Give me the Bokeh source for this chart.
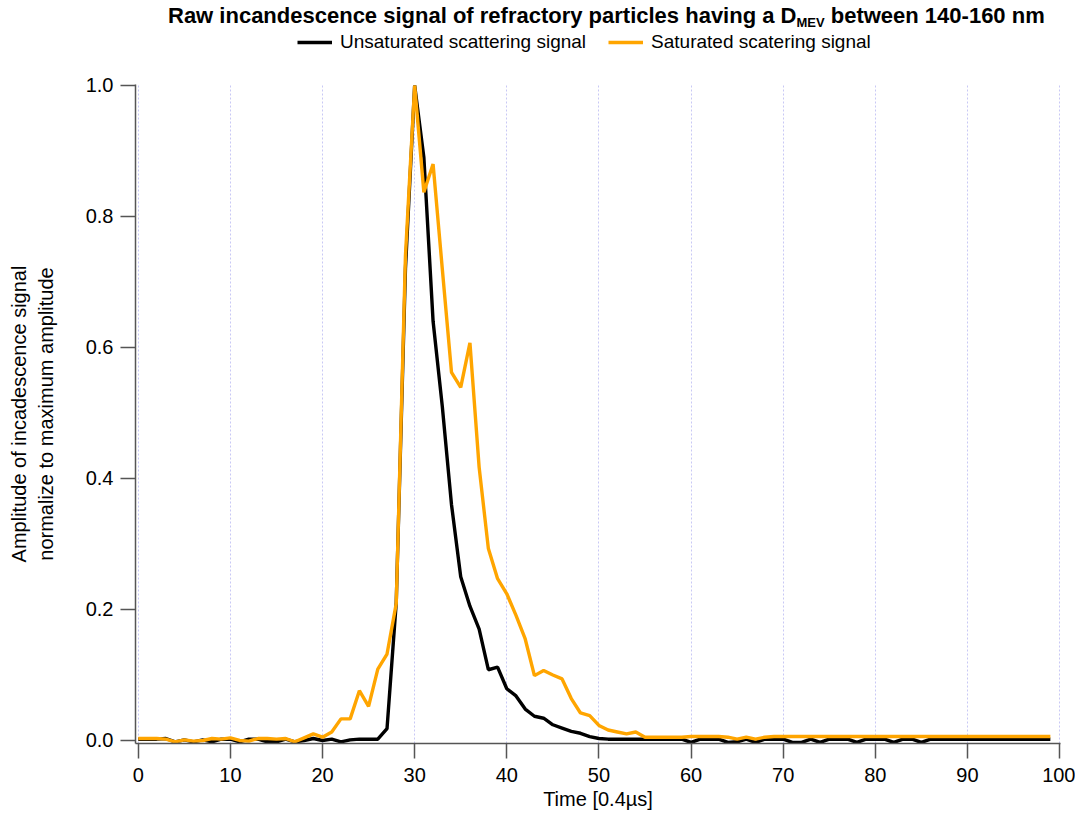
from bokeh.plotting import figure
from bokeh.models import (Range1d, FixedTicker, PrintfTickFormatter, Legend, LegendItem, Div)
from bokeh.layouts import column
from bokeh.embed import file_html
from bokeh.resources import INLINE

# ---------------- data ----------------
time = list(range(100))

unsaturated = [
    0.002, 0.002, 0.002, 0.003, -0.002, 0.001, -0.002, 0.001, -0.002, 0.002,
    0.002, -0.002, 0.002, 0.002, -0.002, -0.002, 0.002, -0.002, 0.000, 0.003,
    0.000, 0.002, -0.002, 0.001, 0.002, 0.002, 0.002, 0.018, 0.210, 0.720,
    1.000, 0.890, 0.640, 0.510, 0.360, 0.250, 0.205, 0.170, 0.108, 0.112,
    0.079, 0.068, 0.048, 0.037, 0.034, 0.024, 0.019, 0.014, 0.011, 0.006,
    0.003, 0.002, 0.002, 0.002, 0.002, 0.002, 0.002, 0.002, 0.002, 0.002,
    -0.003, 0.002, 0.002, 0.002, -0.003, -0.002, 0.002, -0.003, 0.002, 0.002,
    0.002, -0.003, -0.003, 0.002, -0.003, 0.002, 0.002, 0.002, -0.003, 0.002,
    0.002, 0.002, -0.003, 0.002, 0.002, -0.003, 0.002, 0.002, 0.002, 0.002,
    0.002, 0.002, 0.002, 0.002, 0.002, 0.002, 0.002, 0.002, 0.002, 0.002,
]

saturated = [
    0.003, 0.003, 0.003, 0.002, -0.002, 0.001, -0.001, 0.000, 0.003, 0.002,
    0.004, 0.000, -0.001, 0.003, 0.003, 0.002, 0.003, -0.002, 0.004, 0.010,
    0.005, 0.013, 0.033, 0.033, 0.076, 0.052, 0.109, 0.132, 0.209, 0.740,
    1.000, 0.837, 0.880, 0.720, 0.562, 0.539, 0.607, 0.417, 0.293, 0.247,
    0.224, 0.191, 0.155, 0.099, 0.107, 0.100, 0.094, 0.064, 0.042, 0.038,
    0.023, 0.016, 0.013, 0.010, 0.013, 0.005, 0.005, 0.005, 0.005, 0.005,
    0.006, 0.006, 0.006, 0.006, 0.005, 0.002, 0.005, 0.002, 0.005, 0.006,
    0.006, 0.006, 0.006, 0.006, 0.006, 0.006, 0.006, 0.006, 0.006, 0.006,
    0.006, 0.006, 0.006, 0.006, 0.006, 0.006, 0.006, 0.006, 0.006, 0.006,
    0.006, 0.006, 0.006, 0.006, 0.006, 0.006, 0.006, 0.006, 0.006, 0.006,
]

x_ticks = [0, 10, 20, 30, 40, 50, 60, 70, 80, 90, 100]
y_ticks = [0.0, 0.2, 0.4, 0.6, 0.8, 1.0]

series_names = ["Unsaturated scattering signal", "Saturated scatering signal"]
series_colors = ["#000000", "#FFA500"]

title_main = "Raw incandescence signal of refractory particles having a D"
title_sub = "MEV"
title_tail = "between 140-160 nm"

FONT = "Liberation Sans"

W = 1075
TITLE_H = 30
LEG_H = 42
H = 742
B_LEFT, B_RIGHT, B_TOP, B_BOTTOM = 135, 15, 12, 71

# ---------------- title (HTML, for the subscript) ----------------
title_div = Div(
    text=(f'<span style="font-family:\'{FONT}\';font-weight:bold;font-size:22px;'
          f'color:#000;white-space:nowrap;">{title_main}'
          f'<sub style="font-size:13px;vertical-align:-4px;">{title_sub}</sub> '
          f'{title_tail}</span>'),
    width=W, height=TITLE_H, margin=(0, 0, 0, 0),
    styles={"padding-left": "168px", "padding-top": "4px", "line-height": "24px"})

# ---------------- legend strip ----------------
lg = figure(width=W, height=LEG_H, output_backend="svg", toolbar_location=None,
            x_range=Range1d(-0.3, 100.1), y_range=Range1d(-0.0046, 1.0015),
            min_border=0, margin=(0, 0, 0, 0))
lg.title.visible = False
lg.axis.visible = False
lg.grid.visible = False
lg.outline_line_color = None
lr_unsat = lg.line(time, unsaturated, line_color=series_colors[0], line_width=3.4, visible=False)
lr_sat = lg.line(time, saturated, line_color=series_colors[1], line_width=3.4, visible=False)
legend = Legend(items=[LegendItem(label=series_names[0], renderers=[lr_unsat]),
                       LegendItem(label=series_names[1], renderers=[lr_sat])],
                orientation="horizontal", location=(162, 19),
                label_text_font=FONT, label_text_font_size="19px", label_text_color="#000000",
                glyph_width=35, glyph_height=20, label_standoff=8, spacing=22,
                padding=0, margin=0, border_line_alpha=0, background_fill_alpha=0)
lg.add_layout(legend, "center")

# ---------------- main figure ----------------
p = figure(width=W, height=H, output_backend="svg", toolbar_location=None,
           x_range=Range1d(-0.3, 100.1), y_range=Range1d(-0.0046, 1.0015),
           min_border_left=B_LEFT, min_border_right=B_RIGHT, min_border_top=B_TOP,
           min_border_bottom=B_BOTTOM, margin=(0, 0, 0, 0))
p.title.visible = False
p.outline_line_color = None
p.background_fill_color = "white"
p.border_fill_color = "white"

p.line(time, unsaturated, line_color=series_colors[0], line_width=3.4)
p.line(time, saturated, line_color=series_colors[1], line_width=3.4)

for ax in (p.xaxis[0], p.yaxis[0]):
    ax.axis_line_color = "#555555"
    ax.axis_line_width = 1.5
    ax.major_tick_line_color = "#555555"
    ax.major_tick_line_width = 1.5
    ax.major_tick_out = 15
    ax.major_tick_in = 0
    ax.minor_tick_line_color = None
    ax.major_label_text_font = FONT
    ax.major_label_text_font_size = "20px"
    ax.major_label_text_color = "#000000"
    ax.axis_label_text_font = FONT
    ax.axis_label_text_font_size = "20px"
    ax.axis_label_text_font_style = "normal"
    ax.axis_label_text_color = "#000000"

p.xaxis.ticker = FixedTicker(ticks=x_ticks)
p.yaxis.ticker = FixedTicker(ticks=y_ticks)
p.yaxis.formatter = PrintfTickFormatter(format="%.1f")
p.xaxis.axis_label = "Time [0.4µs]"
p.yaxis.axis_label = "Amplitude of incadescence signal\nnormalize to maximum amplitude"
p.xaxis.major_label_standoff = 9
p.yaxis.major_label_standoff = 7
p.xaxis.axis_label_standoff = 3
p.yaxis.axis_label_standoff = 26

p.xgrid.ticker = FixedTicker(ticks=x_ticks)
p.xgrid.grid_line_color = "#c8c8f5"
p.xgrid.grid_line_dash = "2 2"
p.xgrid.grid_line_width = 1
p.ygrid.visible = False

layout = column(title_div, lg, p, spacing=0)
open("out.html", "w").write(file_html(layout, INLINE))
